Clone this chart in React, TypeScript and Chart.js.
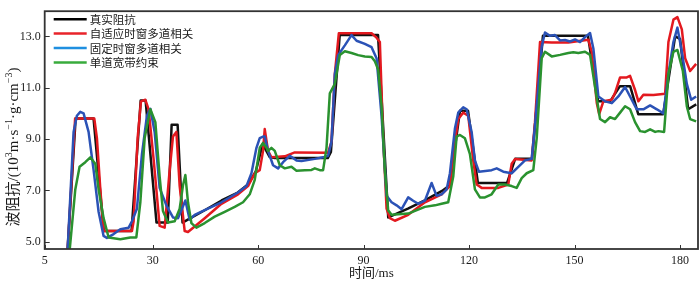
import React, { useEffect, useRef } from 'react';
import { Chart, registerables } from 'chart.js';

Chart.register(...registerables);

// ---- labels ----
const seriesLabels = ['真实阻抗', '自适应时窗多道相关', '固定时窗多道相关', '单道宽带约束'];
const xTitle = '时间/ms';

// ---- ticks ----
const X_MIN = -0.7;
const X_MAX = 185.1;
const Y_MIN = 4.72;
const Y_MAX = 13.98;
const xTickValues = [-0.7, 30, 60, 90, 120, 150, 180];
const xTickLabels = ['5', '30', '60', '90', '120', '150', '180'];
const yTickValues = [5, 7, 9, 11, 13];
const yTickLabels = ['5.0', '7.0', '9.0', '11.0', '13.0'];

// ---- true impedance ----
const trueX = [-0.7, 5.8, 8.1, 13.2, 16.1, 24.0, 26.6, 28.0, 31.1, 34.3, 35.4, 37.1, 38.5, 40.0, 44.8, 49.6, 54.2, 57.1, 59.3, 61.3, 63.3, 64.7, 79.8, 80.7, 83.2, 94.1, 97.0, 102.6, 107.4, 112.3, 114.5, 117.4, 119.7, 122.5, 130.8, 133.1, 137.9, 141.0, 153.8, 156.7, 160.1, 162.9, 165.8, 168.1, 175.2, 178.6, 180.0, 182.3, 184.6];
const trueY = [4.65, 4.65, 9.80, 9.80, 5.42, 5.42, 10.5, 10.5, 5.75, 5.75, 9.56, 9.56, 5.75, 5.86, 6.23, 6.61, 6.92, 7.23, 7.73, 8.8, 8.3, 8.26, 8.26, 8.5, 13.05, 13.05, 5.95, 6.29, 6.61, 6.98, 7.2, 10.10, 10.10, 7.29, 7.29, 8.23, 8.23, 13.02, 13.02, 10.47, 10.47, 11.06, 11.06, 9.97, 9.97, 13.0, 12.9, 10.16, 10.35];

// ---- adaptive window multi-trace ----
const adaptX = [-0.7, 5.8, 7.95, 13.41, 14.15, 15.12, 16.05, 24.11, 24.59, 25.73, 26.67, 27.93, 28.86, 30.29, 31.99, 33.42, 34.84, 35.78, 36.75, 37.69, 39.11, 40.05, 44.81, 49.56, 54.28, 57.13, 59.04, 60.46, 61.4, 61.88, 62.82, 63.79, 67.58, 70.42, 79.9, 80.87, 81.81, 82.95, 92.26, 93.68, 94.62, 95.56, 96.53, 97.47, 98.89, 102.68, 107.43, 112.18, 114.55, 115.49, 116.91, 118.33, 119.76, 121.18, 122.15, 123.57, 128.3, 131.14, 132.11, 133.05, 137.8, 138.74, 140.17, 143.5, 148.22, 153.91, 154.88, 156.31, 157.0, 158.18, 160.58, 161.51, 162.94, 164.84, 165.78, 167.2, 168.15, 169.57, 172.42, 175.75, 176.69, 178.11, 179.25, 180.5, 181.44, 182.86, 184.57];
const adaptY = [4.65, 4.65, 9.80, 9.80, 9.04, 7.04, 5.42, 5.42, 5.80, 9.04, 10.47, 10.53, 10.16, 8.2, 5.62, 5.55, 7.79, 9.10, 9.28, 7.17, 5.42, 5.38, 5.92, 6.48, 6.85, 7.17, 7.67, 7.79, 8.54, 9.39, 8.54, 8.29, 8.33, 8.48, 8.47, 8.9, 11.53, 13.12, 13.12, 12.95, 12.78, 9.04, 6.29, 5.92, 5.82, 6.05, 6.54, 6.85, 7.17, 8.41, 9.78, 10.03, 9.91, 8.16, 7.23, 7.10, 7.10, 7.23, 8.04, 8.22, 8.17, 9.66, 12.78, 12.76, 12.76, 12.87, 12.40, 10.41, 9.97, 10.47, 10.53, 10.8, 11.40, 11.40, 11.46, 10.91, 10.47, 10.73, 10.72, 10.77, 12.78, 13.65, 13.75, 13.27, 12.15, 11.65, 11.93];

// ---- fixed window multi-trace ----
const fixedX = [-0.7, 5.8, 7.52, 8.45, 9.42, 10.36, 11.78, 13.21, 14.63, 16.05, 16.99, 18.9, 20.81, 23.17, 24.11, 25.53, 26.96, 28.38, 29.35, 30.57, 31.99, 33.9, 35.78, 37.21, 39.31, 40.53, 41.96, 44.81, 49.56, 54.28, 56.68, 58.1, 59.52, 60.46, 61.4, 61.88, 62.82, 64.25, 65.67, 67.09, 69.0, 70.91, 72.33, 76.12, 78.48, 79.9, 80.87, 81.81, 82.75, 84.66, 86.56, 87.99, 90.35, 92.26, 93.68, 95.1, 96.53, 97.95, 99.38, 100.8, 102.68, 104.1, 105.52, 107.43, 109.34, 110.76, 112.18, 113.61, 114.55, 115.97, 116.91, 118.33, 119.3, 120.72, 121.66, 122.8, 126.41, 127.84, 129.72, 132.11, 134.0, 135.9, 137.8, 138.74, 140.65, 141.58, 143.01, 144.43, 145.86, 147.28, 148.7, 150.13, 151.55, 152.98, 154.4, 155.34, 156.76, 158.67, 160.58, 162.45, 164.36, 165.78, 167.69, 169.57, 171.48, 173.39, 175.27, 176.69, 178.11, 179.25, 180.5, 181.92, 183.15, 184.57];
const fixedY = [4.65, 4.65, 9.28, 9.91, 10.06, 10.0, 9.28, 7.79, 6.17, 5.23, 5.15, 5.3, 5.49, 5.55, 5.80, 6.29, 8.41, 9.91, 10.18, 9.28, 7.1, 6.42, 5.95, 5.92, 6.61, 5.86, 6.05, 6.23, 6.54, 6.92, 7.17, 7.67, 8.66, 9.04, 9.10, 9.10, 8.54, 7.98, 7.86, 8.1, 8.35, 8.17, 8.15, 8.23, 8.29, 8.35, 8.9, 11.53, 12.27, 12.65, 13.05, 12.83, 12.71, 12.58, 12.15, 9.91, 6.79, 6.54, 6.42, 6.27, 6.73, 6.6, 6.48, 6.6, 7.29, 6.79, 6.85, 7.04, 7.67, 9.41, 10.03, 10.24, 10.16, 9.28, 8.16, 7.73, 7.79, 7.86, 7.73, 7.67, 7.92, 8.17, 8.23, 9.53, 12.6, 13.15, 13.02, 13.05, 12.84, 12.86, 12.80, 12.88, 12.78, 12.97, 13.13, 12.53, 10.66, 10.47, 10.40, 10.66, 11.03, 10.66, 10.16, 10.16, 10.31, 10.16, 10.0, 11.53, 12.78, 13.34, 12.40, 11.15, 10.53, 10.66];

// ---- single-trace broadband constraint ----
const singleX = [-0.7, 6.38, 8.0, 9.22, 10.85, 12.27, 13.69, 14.63, 16.05, 17.48, 20.81, 23.65, 25.36, 26.5, 27.73, 29.35, 30.77, 31.99, 32.93, 34.36, 36.27, 37.69, 38.63, 39.31, 40.05, 41.02, 42.44, 44.81, 47.65, 50.5, 53.34, 55.71, 57.61, 59.04, 60.46, 61.4, 62.37, 62.82, 63.79, 64.73, 66.16, 67.58, 69.48, 70.91, 73.27, 75.18, 76.12, 77.54, 78.48, 79.45, 80.39, 81.81, 83.23, 84.66, 86.56, 88.44, 90.35, 92.26, 93.2, 94.14, 95.1, 96.04, 96.98, 97.95, 102.68, 107.43, 110.28, 112.18, 114.06, 115.49, 116.45, 117.39, 118.82, 120.24, 121.66, 123.08, 124.51, 126.41, 128.3, 130.2, 132.11, 133.53, 134.96, 136.38, 138.26, 139.23, 140.65, 141.58, 143.5, 145.86, 148.22, 149.64, 151.07, 152.98, 154.4, 155.82, 157.24, 158.67, 160.09, 161.51, 162.94, 164.36, 165.78, 167.2, 168.63, 170.06, 171.48, 172.91, 173.85, 175.46, 176.69, 178.11, 179.25, 180.79, 181.92, 182.86, 184.57];
const singleY = [4.65, 4.65, 7.04, 7.92, 8.1, 8.29, 8.04, 7.04, 5.92, 5.17, 5.10, 5.17, 5.17, 6.54, 9.04, 10.16, 9.66, 7.54, 6.2, 5.75, 5.80, 6.29, 7.2, 7.60, 6.54, 5.73, 5.55, 5.73, 5.98, 6.17, 6.36, 6.54, 6.85, 7.41, 8.66, 8.85, 8.66, 8.54, 8.66, 8.54, 7.98, 7.86, 7.92, 7.77, 7.79, 7.80, 7.86, 7.79, 7.79, 8.66, 10.78, 11.15, 12.27, 12.42, 12.35, 12.27, 12.22, 12.20, 12.03, 11.71, 10.28, 7.79, 6.23, 6.05, 6.10, 6.36, 6.42, 6.48, 6.54, 7.54, 9.10, 9.16, 9.03, 8.41, 7.04, 6.73, 6.73, 6.85, 7.23, 7.23, 7.17, 7.10, 7.48, 7.67, 7.79, 9.04, 12.15, 12.40, 12.22, 12.28, 12.35, 12.38, 12.35, 12.40, 12.28, 11.03, 9.78, 9.66, 9.85, 9.78, 10.03, 10.28, 10.16, 9.66, 9.31, 9.28, 9.38, 9.28, 9.31, 9.28, 11.53, 12.40, 12.47, 11.65, 10.28, 9.78, 9.69];

const lineColors = ['#111111', '#e3191f', '#2b52b6', '#2a922f'];
const legendColors = ['#000000', '#e8232a', '#1f8fe0', '#38ab3c'];

const SERIF = '"Liberation Serif", "Times New Roman", "Noto Sans CJK SC", serif';
const CJK = '"Noto Sans CJK SC", "Liberation Serif", sans-serif';

function pts(xs: number[], ys: number[]) {
  return xs.map((x, i) => ({ x, y: ys[i] }));
}

const decorPlugin = {
  id: 'decor',
  afterDraw(chart: any) {
    const ctx: CanvasRenderingContext2D = chart.ctx;
    const a = chart.chartArea;
    const xs = chart.scales.x;
    const ys = chart.scales.y;
    ctx.save();
    // frame
    ctx.strokeStyle = '#333333';
    ctx.lineWidth = 1.8;
    ctx.strokeRect(a.left, a.top, a.right - a.left, a.bottom - a.top);
    // inner ticks
    ctx.lineWidth = 1;
    ctx.strokeStyle = '#333';
    ctx.beginPath();
    yTickValues.forEach((v) => {
      const y = Math.round(ys.getPixelForValue(v)) + 0.5;
      ctx.moveTo(a.left, y);
      ctx.lineTo(a.left + 5, y);
    });
    xTickValues.forEach((v) => {
      const x = Math.round(xs.getPixelForValue(v)) + 0.5;
      ctx.moveTo(x, a.bottom);
      ctx.lineTo(x, a.bottom - 4);
    });
    ctx.stroke();

    // legend
    ctx.textBaseline = 'middle';
    ctx.textAlign = 'left';
    seriesLabels.forEach((lab, i) => {
      const y = a.top + 8 + i * 14.4;
      ctx.strokeStyle = legendColors[i];
      ctx.lineWidth = 2.5;
      ctx.beginPath();
      ctx.moveTo(a.left + 9, y);
      ctx.lineTo(a.left + 42, y);
      ctx.stroke();
      ctx.fillStyle = '#1a1a1a';
      ctx.font = '11.5px ' + CJK;
      ctx.fillText(lab, a.left + 45, y + 0.5);
    });

    // x title
    ctx.fillStyle = '#1a1a1a';
    ctx.textAlign = 'center';
    ctx.font = '13px ' + SERIF;
    ctx.fillText(xTitle, (a.left + a.right) / 2, 274);

    // y title with superscripts
    const parts = [
      { t: '波阻抗/(10', sup: false },
      { t: '3', sup: true },
      { t: 'm·s', sup: false },
      { t: '−1', sup: true },
      { t: '·g·cm', sup: false },
      { t: '−3', sup: true },
      { t: ')', sup: false },
    ];
    const mainFont = '15px ' + SERIF;
    const supFont = '10px ' + SERIF;
    let total = 0;
    const widths = parts.map((p) => {
      ctx.font = p.sup ? supFont : mainFont;
      const w = ctx.measureText(p.t).width;
      total += w;
      return w;
    });
    ctx.translate(14, 147);
    ctx.rotate(-Math.PI / 2);
    ctx.textAlign = 'left';
    let cx = -total / 2;
    parts.forEach((p, i) => {
      ctx.font = p.sup ? supFont : mainFont;
      ctx.fillText(p.t, cx, p.sup ? -5 : 0);
      cx += widths[i];
    });
    ctx.restore();
  },
};

export default function App() {
  const ref = useRef<HTMLCanvasElement | null>(null);
  useEffect(() => {
    if (!ref.current) return;
    const series = [
      pts(trueX, trueY),
      pts(adaptX, adaptY),
      pts(fixedX, fixedY),
      pts(singleX, singleY),
    ];
    const chart = new Chart(ref.current, {
      type: 'line',
      data: {
        datasets: series.map((d, i) => ({
          label: seriesLabels[i],
          data: d,
          borderColor: lineColors[i],
          backgroundColor: lineColors[i],
          borderWidth: 2.5,
          pointRadius: 0,
          tension: 0,
          fill: false,
          order: 3 - i,
          borderJoinStyle: 'round' as const,
        })),
      },
      options: {
        animation: false,
        responsive: true,
        maintainAspectRatio: false,
        parsing: false as any,
        layout: { padding: { top: 1, right: 2, left: 0, bottom: 0 } },
        plugins: {
          legend: { display: false },
          tooltip: { enabled: false },
        },
        scales: {
          x: {
            type: 'linear',
            min: X_MIN,
            max: X_MAX,
            afterBuildTicks: (axis: any) => {
              axis.ticks = xTickValues.map((v) => ({ value: v }));
            },
            afterFit: (axis: any) => {
              axis.height = 33;
            },
            ticks: {
              autoSkip: false,
              maxRotation: 0,
              padding: 5,
              color: '#1a1a1a',
              font: { family: SERIF, size: 12 },
              callback: (v: any) => {
                const i = xTickValues.indexOf(Number(v));
                return i >= 0 ? xTickLabels[i] : '';
              },
            },
            grid: { display: false, drawTicks: false },
            border: { display: false },
          },
          y: {
            type: 'linear',
            min: Y_MIN,
            max: Y_MAX,
            afterBuildTicks: (axis: any) => {
              axis.ticks = yTickValues.map((v) => ({ value: v }));
            },
            afterFit: (axis: any) => {
              axis.width = 44.7;
            },
            ticks: {
              autoSkip: false,
              padding: 4,
              color: '#1a1a1a',
              font: { family: SERIF, size: 12 },
              callback: (v: any) => {
                const i = yTickValues.indexOf(Number(v));
                return i >= 0 ? yTickLabels[i] : '';
              },
            },
            grid: { display: false, drawTicks: false },
            border: { display: false },
          },
        },
      },
      plugins: [decorPlugin],
    });
    return () => chart.destroy();
  }, []);

  return (
    <div style={{ position: 'fixed', left: 0, top: 0, width: 700, height: 282, background: '#fff' }}>
      <canvas ref={ref} />
    </div>
  );
}
